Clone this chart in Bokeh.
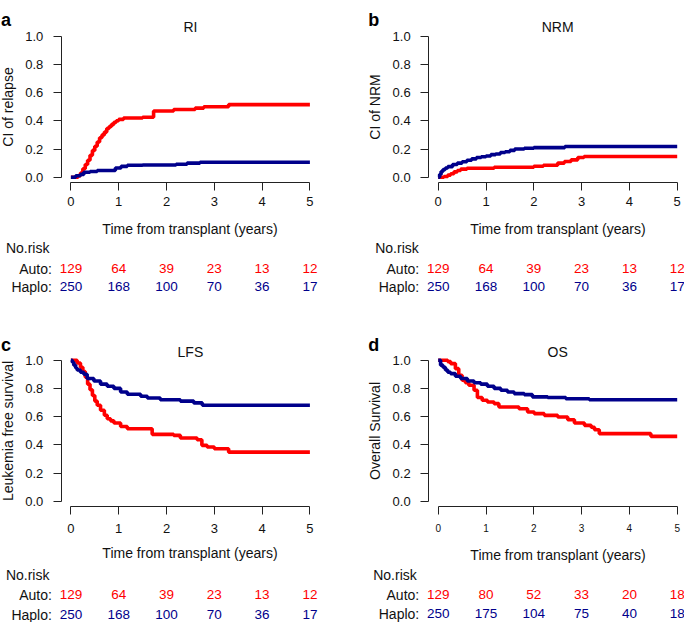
from bokeh.plotting import figure
from bokeh.models import Range1d, Label, FixedTicker, PrintfTickFormatter
from bokeh.layouts import gridplot
from bokeh.embed import file_html
from bokeh.resources import INLINE

FONT = "Liberation Sans"
RED = "#FF0000"
BLUE = "#00008B"
AXIS = "#222222"
TXT = "#111111"

# ---------------- data ----------------
years = [0, 1, 2, 3, 4, 5]
yticks = [0.0, 0.2, 0.4, 0.6, 0.8, 1.0]

# a: RI (cumulative incidence of relapse)
ri_auto_t = [0, 0.15, 0.2, 0.25, 0.3, 0.35, 0.4, 0.45, 0.5, 0.55, 0.6, 0.65, 0.7, 0.75, 0.8, 0.85,
             0.9, 0.95, 1.0, 1.1, 1.5, 1.73, 2.15, 2.6, 2.78, 3.3, 5.0]
ri_auto_v = [0, 0.01, 0.03, 0.06, 0.09, 0.12, 0.155, 0.19, 0.22, 0.25, 0.28, 0.30, 0.32, 0.345, 0.36,
             0.375, 0.39, 0.40, 0.41, 0.42, 0.425, 0.47, 0.48, 0.49, 0.50, 0.515, 0.515]
ri_haplo_t = [0, 0.1, 0.2, 0.27, 0.4, 0.55, 0.93, 1.05, 1.18, 1.5, 2.2, 2.43, 2.7, 5.0]
ri_haplo_v = [0, 0.01, 0.02, 0.035, 0.04, 0.047, 0.065, 0.077, 0.085, 0.087, 0.092, 0.1, 0.106, 0.106]

# b: NRM
nrm_auto_t = [0, 0.12, 0.2, 0.26, 0.33, 0.4, 0.47, 0.6, 1.17, 2.0, 2.2, 2.5, 2.64, 2.78, 2.92, 3.05, 5.0]
nrm_auto_v = [0, 0.005, 0.015, 0.025, 0.038, 0.047, 0.057, 0.064, 0.071, 0.078, 0.085, 0.1, 0.111,
              0.123, 0.14, 0.147, 0.147]
nrm_haplo_t = [0, 0.03, 0.06, 0.1, 0.15, 0.2, 0.3, 0.4, 0.5, 0.6, 0.7, 0.8, 0.9, 1.0, 1.1, 1.2, 1.3,
               1.4, 1.5, 1.6, 1.8, 2.0, 2.65, 5.0]
nrm_haplo_v = [0, 0.02, 0.04, 0.055, 0.065, 0.075, 0.09, 0.1, 0.11, 0.12, 0.13, 0.14, 0.145, 0.15,
               0.16, 0.165, 0.175, 0.18, 0.19, 0.2, 0.205, 0.21, 0.218, 0.218]

# c: LFS
lfs_auto_t = [0, 0.13, 0.2, 0.25, 0.3, 0.35, 0.4, 0.45, 0.5, 0.55, 0.62, 0.7, 0.76, 0.83, 0.9, 1.04,
              1.18, 1.7, 2.15, 2.29, 2.64, 2.74, 2.85, 3.0, 3.3, 5.0]
lfs_auto_v = [1, 0.98, 0.95, 0.92, 0.88, 0.83, 0.79, 0.75, 0.71, 0.68, 0.645, 0.61, 0.585, 0.57,
              0.555, 0.53, 0.514, 0.474, 0.467, 0.448, 0.436, 0.396, 0.384, 0.372, 0.348, 0.348]
lfs_haplo_t = [0, 0.03, 0.06, 0.1, 0.13, 0.2, 0.27, 0.34, 0.48, 0.62, 0.76, 0.9, 1.04, 1.18, 1.46,
               1.6, 1.87, 2.29, 2.57, 2.75, 5.0]
lfs_haplo_v = [1, 0.985, 0.965, 0.945, 0.93, 0.915, 0.9, 0.87, 0.853, 0.83, 0.815, 0.8, 0.775, 0.758,
               0.744, 0.732, 0.72, 0.71, 0.697, 0.68, 0.68]

# d: OS
os_auto_t = [0, 0.2, 0.26, 0.36, 0.43, 0.5, 0.57, 0.64, 0.75, 0.82, 0.92, 1.03, 1.17, 1.27, 1.69,
             1.87, 2.01, 2.22, 2.5, 2.71, 2.85, 3.06, 3.2, 3.27, 3.37, 4.45, 5.0]
os_auto_v = [1, 0.99, 0.976, 0.94, 0.893, 0.858, 0.84, 0.822, 0.787, 0.735, 0.716, 0.704, 0.692,
             0.668, 0.656, 0.633, 0.621, 0.609, 0.597, 0.578, 0.555, 0.538, 0.525, 0.507, 0.479,
             0.46, 0.46]
os_haplo_t = [0, 0.05, 0.1, 0.15, 0.2, 0.26, 0.36, 0.47, 0.61, 0.75, 0.89, 1.03, 1.17, 1.31, 1.45,
              1.59, 1.8, 1.97, 2.29, 2.67, 3.16, 5.0]
os_haplo_v = [1, 0.965, 0.95, 0.93, 0.915, 0.905, 0.886, 0.87, 0.853, 0.84, 0.83, 0.815, 0.8, 0.787,
              0.775, 0.763, 0.756, 0.74, 0.735, 0.727, 0.72, 0.72]

# numbers at risk
risk_auto_abc = [129, 64, 39, 23, 13, 12]
risk_haplo_abc = [250, 168, 100, 70, 36, 17]
risk_auto_d = [129, 80, 52, 33, 20, 18]
risk_haplo_d = [250, 175, 104, 75, 40, 18]

# ---------------- layout ----------------
PXX = 47.8    # pixels per year
PXY = 141.0   # pixels per unit on y


def panel(letter, title, ylabel, at, av, ht, hv, ra, rh, width, height, x0, y0,
          xtick_fs, xtick_standoff, xlab_standoff, rows_px, norisk_dx, auto_dx, letter_y, title_y):
    # x0 / y0: pixel position of the data origin inside the canvas (y measured from top)
    p = figure(width=width, height=height, title=None,
               x_range=Range1d(-x0 / PXX, (width - x0) / PXX),
               y_range=Range1d(-(height - y0) / PXY, y0 / PXY),
               output_backend="svg", toolbar_location=None, min_border=0)
    p.outline_line_color = None
    p.grid.visible = False
    p.background_fill_color = "white"
    p.border_fill_color = "white"

    p.step(at, av, mode="after", line_width=3.6, color=RED)
    p.step(ht, hv, mode="after", line_width=3.6, color=BLUE)

    xa = p.xaxis[0]
    xa.fixed_location = -0.04
    xa.ticker = FixedTicker(ticks=years)
    xa.bounds = (0, 5)
    xa.axis_label = "Time from transplant (years)"
    xa.major_label_text_font_size = xtick_fs
    xa.major_label_standoff = xtick_standoff
    xa.axis_label_standoff = xlab_standoff

    ya = p.yaxis[0]
    ya.fixed_location = -0.2
    ya.ticker = FixedTicker(ticks=yticks)
    ya.bounds = (0, 1)
    ya.formatter = PrintfTickFormatter(format="%.1f")
    ya.axis_label = ylabel
    ya.major_label_text_font_size = "13px"
    ya.major_label_standoff = 10
    ya.axis_label_standoff = 6

    for ax in (xa, ya):
        ax.axis_line_color = AXIS
        ax.axis_line_width = 1
        ax.major_tick_line_color = AXIS
        ax.major_tick_out = 8
        ax.major_tick_in = 0
        ax.minor_tick_out = 0
        ax.minor_tick_in = 0
        ax.major_label_text_font = FONT
        ax.major_label_text_color = TXT
        ax.axis_label_text_font = FONT
        ax.axis_label_text_font_size = "14px"
        ax.axis_label_text_font_style = "normal"
        ax.axis_label_text_color = TXT

    # panel letter and title
    p.add_layout(Label(x=0, y=letter_y, x_offset=-70, text=letter, text_font=FONT,
                       text_font_size="18px", text_font_style="bold", text_color="black",
                       text_align="left", text_baseline="alphabetic"))
    p.add_layout(Label(x=2.5, y=title_y, text=title, text_font=FONT, text_font_size="14px",
                       text_color=TXT, text_align="center", text_baseline="alphabetic"))

    # numbers-at-risk table
    y_nr, y_auto, y_haplo = [-r / PXY for r in rows_px]
    p.add_layout(Label(x=0, y=y_nr, x_offset=norisk_dx, text="No.risk", text_font=FONT,
                       text_font_size="14px", text_color=TXT, text_align="left",
                       text_baseline="middle"))
    p.add_layout(Label(x=0, y=y_auto, x_offset=auto_dx, text="Auto:", text_font=FONT,
                       text_font_size="14px", text_color=TXT, text_align="right",
                       text_baseline="middle"))
    p.add_layout(Label(x=0, y=y_haplo, x_offset=auto_dx, text="Haplo:", text_font=FONT,
                       text_font_size="14px", text_color=TXT, text_align="right",
                       text_baseline="middle"))
    for t, a, h in zip(years, ra, rh):
        p.add_layout(Label(x=t, y=y_auto, text=str(a), text_font=FONT, text_font_size="13.5px",
                           text_color=RED, text_align="center", text_baseline="middle"))
        p.add_layout(Label(x=t, y=y_haplo, text=str(h), text_font=FONT, text_font_size="13.5px",
                           text_color=BLUE, text_align="center", text_baseline="middle"))
    return p


H1, H2 = 316, 306
W1, W2 = 340, 344

pa = panel("a", "RI", "CI of relapse", ri_auto_t, ri_auto_v, ri_haplo_t, ri_haplo_v,
           risk_auto_abc, risk_haplo_abc, W1, H1, 70.4, 176.7, "13px", 6, 12,
           (70.3, 91.3, 109.3), -65, -19, 1.118, 1.064)
pb = panel("b", "NRM", "CI of NRM", nrm_auto_t, nrm_auto_v, nrm_haplo_t, nrm_haplo_v,
           risk_auto_abc, risk_haplo_abc, W2, H1, 97.7, 176.7, "13px", 6, 12,
           (70.3, 91.3, 109.3), -63, -19, 1.118, 1.064)
pc = panel("c", "LFS", "Leukemia free survival", lfs_auto_t, lfs_auto_v, lfs_haplo_t, lfs_haplo_v,
           risk_auto_abc, risk_haplo_abc, W1, H2, 70.4, 184.7, "13px", 9, 9,
           (73.3, 93.3, 113.3), -65, -19, 1.111, 1.059)
pd_ = panel("d", "OS", "Overall Survival", os_auto_t, os_auto_v, os_haplo_t, os_haplo_v,
            risk_auto_d, risk_haplo_d, W2, H2, 97.7, 184.7, "10px", 9, 12,
            (73.3, 93.3, 112.6), -65, -19, 1.111, 1.059)

grid = gridplot([[pa, pb], [pc, pd_]], toolbar_location=None)

open("out.html", "w").write(file_html(grid, INLINE))
